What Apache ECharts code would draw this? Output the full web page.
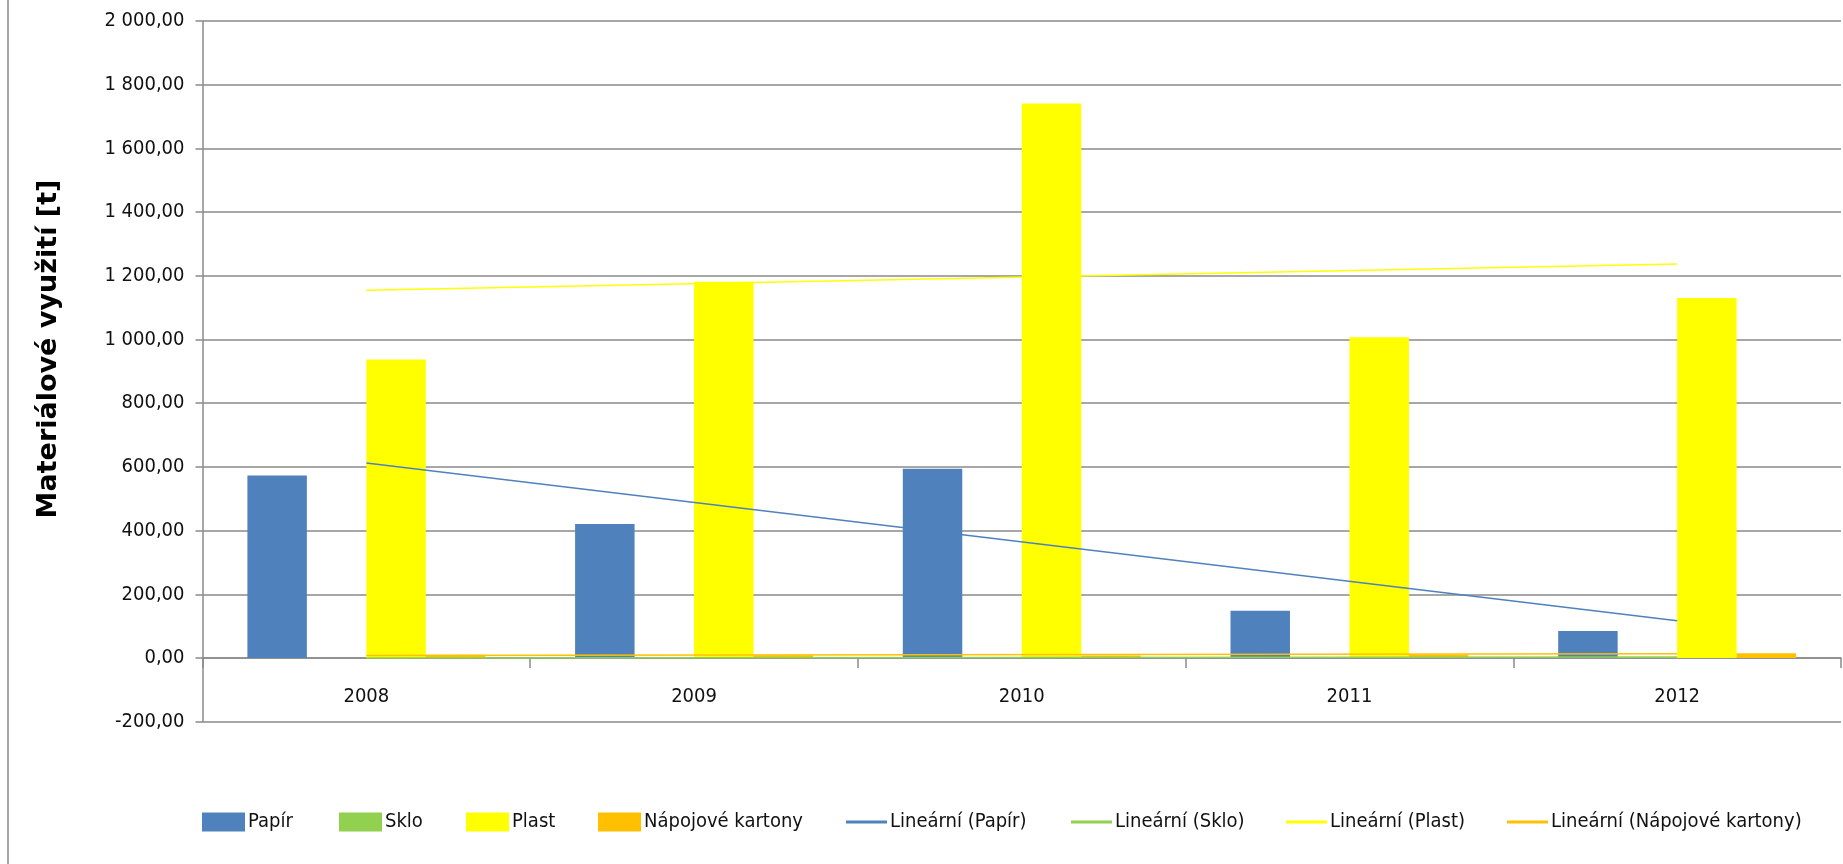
<!DOCTYPE html>
<html>
<head>
<meta charset="utf-8">
<script src="https://cdn.jsdelivr.net/npm/echarts@6/dist/echarts.min.js"></script>
<style>
html,body{margin:0;padding:0;background:#fff;}
#c{width:1843px;height:864px;}
</style>
</head>
<body>
<div id="c"></div>
<script>
const years = ['2008', '2009', '2010', '2011', '2012'];
const papir = [573, 421, 594, 148, 85];
const sklo = [0, 0, 1, 2, 3];
const plast = [937, 1181, 1741, 1007, 1130];
const napojove = [10, 9, 8, 10, 15];
// trend line end points (first year, last year)
const trendPapir = [612, 117];
const trendSklo = [0, 3];
const trendPlast = [1155, 1237];
const trendNapojove = [8, 13];
const yTicks = { min: -200, max: 2000, interval: 200 };

const FONT = "'Liberation Sans Narrow', 'DejaVu Sans Condensed', sans-serif";
const colors = { papir: '#4F81BD', sklo: '#92D050', plast: '#FFFF00', nap: '#FFC000' };

function fmt(v) {
  const neg = v < 0;
  let s = Math.abs(v).toFixed(2).replace('.', ',');
  let [i, d] = s.split(',');
  i = i.replace(/\B(?=(\d{3})+(?!\d))/g, ' ');
  return (neg ? '-' : '') + i + ',' + d;
}
function trend(name, ends, color) {
  return {
    name: name, type: 'line', symbol: 'none', showSymbol: false, z: 5,
    data: [[years[0], ends[0]], [years[years.length - 1], ends[1]]],
    lineStyle: { color: color, width: 1.5 }, itemStyle: { color: color }
  };
}
function bar(name, data, color) {
  return { name: name, type: 'bar', data: data, barGap: '0%', barCategoryGap: '27.4%',
    itemStyle: { color: color } };
}
const legendLeft = [202, 339, 466, 598, 846, 1071, 1286, 1507];
const names = ['Papír', 'Sklo', 'Plast', 'Nápojové kartony', 'Lineární (Papír)', 'Lineární (Sklo)', 'Lineární (Plast)', 'Lineární (Nápojové kartony)'];
const legends = names.map((n, i) => ({
  left: legendLeft[i], top: 812, data: [n], itemWidth: i < 4 ? 43 : 41, itemHeight: i < 4 ? 19 : 3,
  itemGap: 0, padding: 0,
  icon: 'rect',
  textStyle: { fontFamily: FONT, fontSize: 20, color: '#111', padding: [0, 0, 0, -2] },
  selectedMode: false
}));

const chart = echarts.init(document.getElementById('c'), null, { renderer: 'canvas' });
chart.setOption({
  animation: false,
  backgroundColor: '#fff',
  grid: { left: 202.5, top: 21, right: 2, bottom: 142.3, containLabel: false },
  legend: legends,
  xAxis: {
    type: 'category', data: years,
    axisLine: { onZero: true, lineStyle: { color: '#8a8a8a', width: 1.5 } },
    axisTick: { show: true, length: 10, lineStyle: { color: '#8a8a8a', width: 1.5 } },
    axisLabel: { fontFamily: FONT, fontSize: 20, color: '#111', margin: -35 }
  },
  yAxis: {
    type: 'value', min: yTicks.min, max: yTicks.max, interval: yTicks.interval,
    axisLine: { show: true, lineStyle: { color: '#8a8a8a', width: 1.5 } },
    axisTick: { show: true, length: 7, lineStyle: { color: '#8a8a8a', width: 1.5 } },
    splitLine: { show: true, lineStyle: { color: '#8a8a8a', width: 1.5 } },
    axisLabel: { fontFamily: FONT, fontSize: 20, color: '#111', margin: 18, formatter: fmt }
  },
  series: [
    bar('Papír', papir, colors.papir),
    bar('Sklo', sklo, colors.sklo),
    bar('Plast', plast, colors.plast),
    bar('Nápojové kartony', napojove, colors.nap),
    trend('Lineární (Papír)', trendPapir, colors.papir),
    trend('Lineární (Sklo)', trendSklo, colors.sklo),
    trend('Lineární (Plast)', trendPlast, colors.plast),
    trend('Lineární (Nápojové kartony)', trendNapojove, colors.nap)
  ],
  graphic: [
    { type: 'rect', shape: { x: 8, y: -10, width: 3000, height: 3000 }, silent: true,
      style: { fill: 'none', stroke: '#8a8a8a', lineWidth: 1.5 } },
    { type: 'text', x: 49, y: 349, rotation: Math.PI / 2, silent: true,
      style: { text: 'Materiálové využití [t]', fontFamily: "'DejaVu Sans', sans-serif", fontWeight: 'bold',
        fontSize: 27, fill: '#000', align: 'center', verticalAlign: 'middle' } }
  ]
});
</script>
</body>
</html>
